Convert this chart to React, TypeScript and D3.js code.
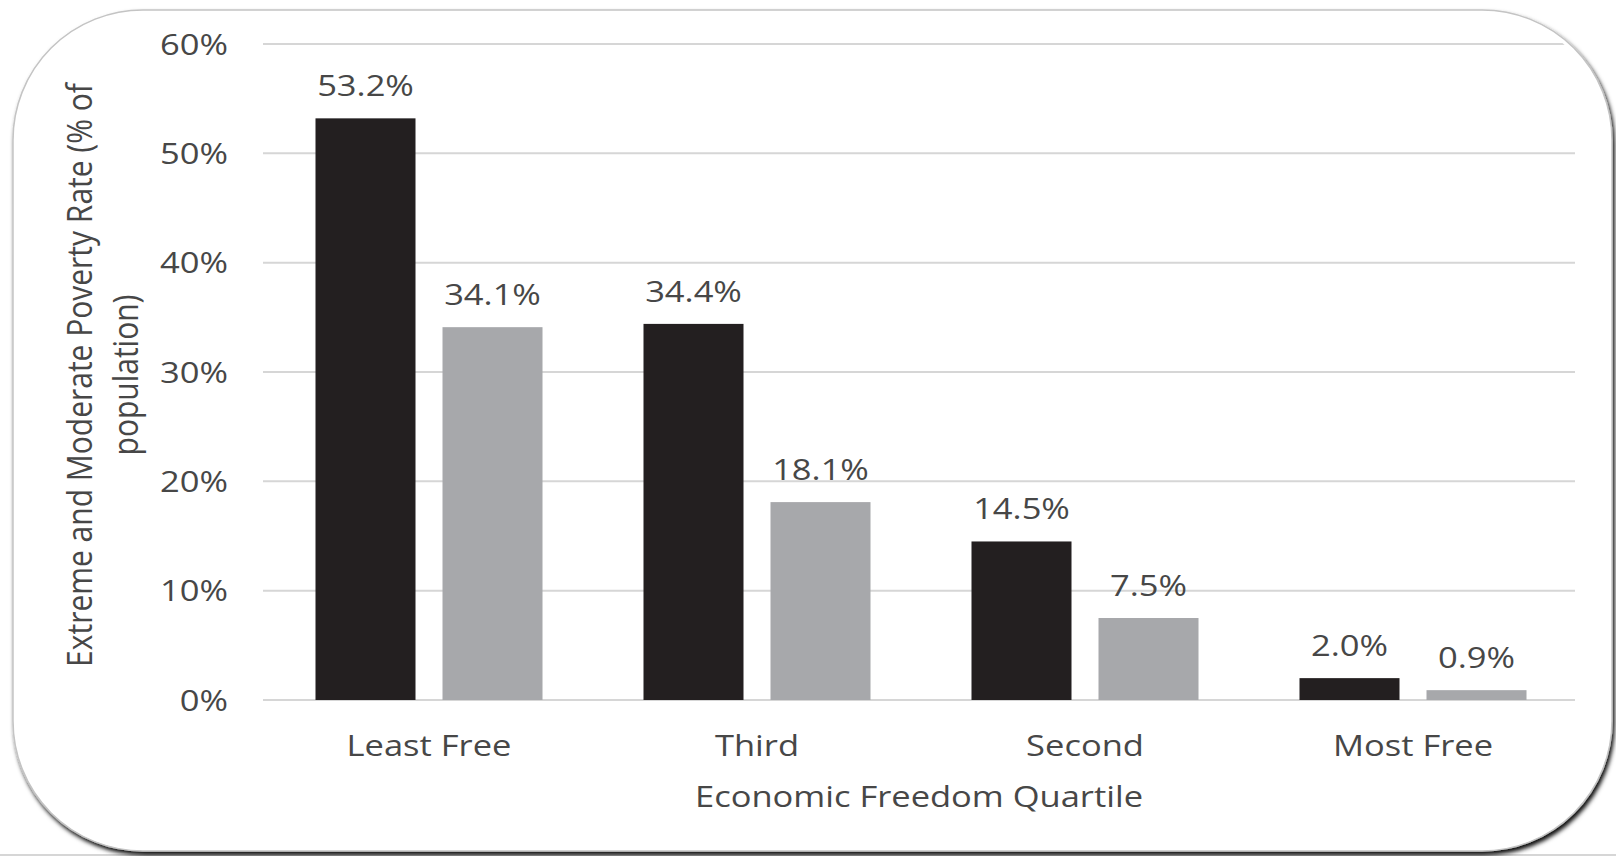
import React from "react";
import * as d3 from "d3";

const categories = ["Least Free", "Third", "Second", "Most Free"];
const seriesNames = ["Extreme and Moderate", "Extreme"];
const seriesA = [53.2, 34.4, 14.5, 2.0];
const seriesB = [34.1, 18.1, 7.5, 0.9];
const yTicks = [0, 10, 20, 30, 40, 50, 60];
const yTitleLines = ["Extreme and Moderate Poverty Rate (% of", "population)"];
const xTitle = "Economic Freedom Quartile";

const W = 1616;
const H = 856;
const SX = 1.15;
const FONT = "'Open Sans', sans-serif";
const TEXT = "#474747";
const COLORS = ["#231f20", "#a7a8ab"];

export default function App() {
  const x0 = d3.scaleBand<string>().domain(categories).range([265, 1577]).padding(0);
  const x1 = d3
    .scaleBand<string>()
    .domain(seriesNames)
    .range([0, x0.bandwidth()])
    .paddingInner(0.2126)
    .paddingOuter(0.3976);
  const y = d3.scaleLinear().domain([0, 60]).range([700, 44]);

  const values = [seriesA, seriesB];
  const frame = { x: 13, y: 10, w: 1599, h: 841, r: 130 };

  return (
    <svg
      width={W}
      height={H}
      style={{ position: "absolute", left: 0, top: 0, background: "#fff" }}
      fontFamily={FONT}
    >
      <defs>
        <filter id="shadow" x="-5%" y="-5%" width="110%" height="110%">
          <feDropShadow dx="2" dy="3.5" stdDeviation="2" floodColor="#000" floodOpacity="0.95" />
        </filter>
        <clipPath id="frameClip">
          <rect x={frame.x + 4} y={frame.y + 4} width={frame.w - 8} height={frame.h - 8} rx={frame.r - 4} ry={frame.r - 4} />
        </clipPath>
      </defs>
      <rect x={0} y={0} width={W} height={H} fill="#fff" />
      <line x1={0} x2={W} y1={855} y2={855} stroke="#c8c8c8" strokeWidth={1.5} />
      <rect
        x={frame.x}
        y={frame.y}
        width={frame.w}
        height={frame.h}
        rx={frame.r}
        ry={frame.r}
        fill="#fff"
        stroke="#c4c4c4"
        strokeWidth={1.5}
        filter="url(#shadow)"
      />
      <g clipPath="url(#frameClip)">
        {yTicks.map((t) => (
          <line
            key={t}
            x1={263}
            x2={1575}
            y1={y(t)}
            y2={y(t)}
            stroke="#d6d6d6"
            strokeWidth={2}
          />
        ))}
      </g>
      {yTicks.map((t) => (
        <text
          key={"l" + t}
          transform={`translate(228,${y(t) + 10.5}) scale(${SX},1)`}
          textAnchor="end"
          fontSize={30}
          fill={TEXT}
        >
          {t + "%"}
        </text>
      ))}
      {categories.map((c, i) => (
        <g key={c}>
          {seriesNames.map((s, j) => {
            const v = values[j][i];
            const bx = (x0(c) as number) + (x1(s) as number);
            const bw = x1.bandwidth();
            return (
              <g key={s}>
                <rect x={bx} y={y(v)} width={bw} height={y(0) - y(v)} fill={COLORS[j]} />
                <text
                  transform={`translate(${bx + bw / 2},${y(v) - 22}) scale(${SX},1)`}
                  textAnchor="middle"
                  fontSize={30}
                  fill={TEXT}
                >
                  {v.toFixed(1) + "%"}
                </text>
              </g>
            );
          })}
          <text
            transform={`translate(${(x0(c) as number) + x0.bandwidth() / 2},756) scale(${SX},1)`}
            textAnchor="middle"
            fontSize={30}
            fill={TEXT}
          >
            {c}
          </text>
        </g>
      ))}
      <text
        transform={`translate(${(263 + 1575) / 2},807) scale(${SX},1)`}
        textAnchor="middle"
        fontSize={30}
        fill={TEXT}
      >
        {xTitle}
      </text>
      {yTitleLines.map((line, i) => (
        <text
          key={line}
          transform={`translate(${92 + i * 46},375) scale(${SX},1) rotate(-90)`}
          textAnchor="middle"
          fontSize={30}
          fill={TEXT}
        >
          {line}
        </text>
      ))}
    </svg>
  );
}
